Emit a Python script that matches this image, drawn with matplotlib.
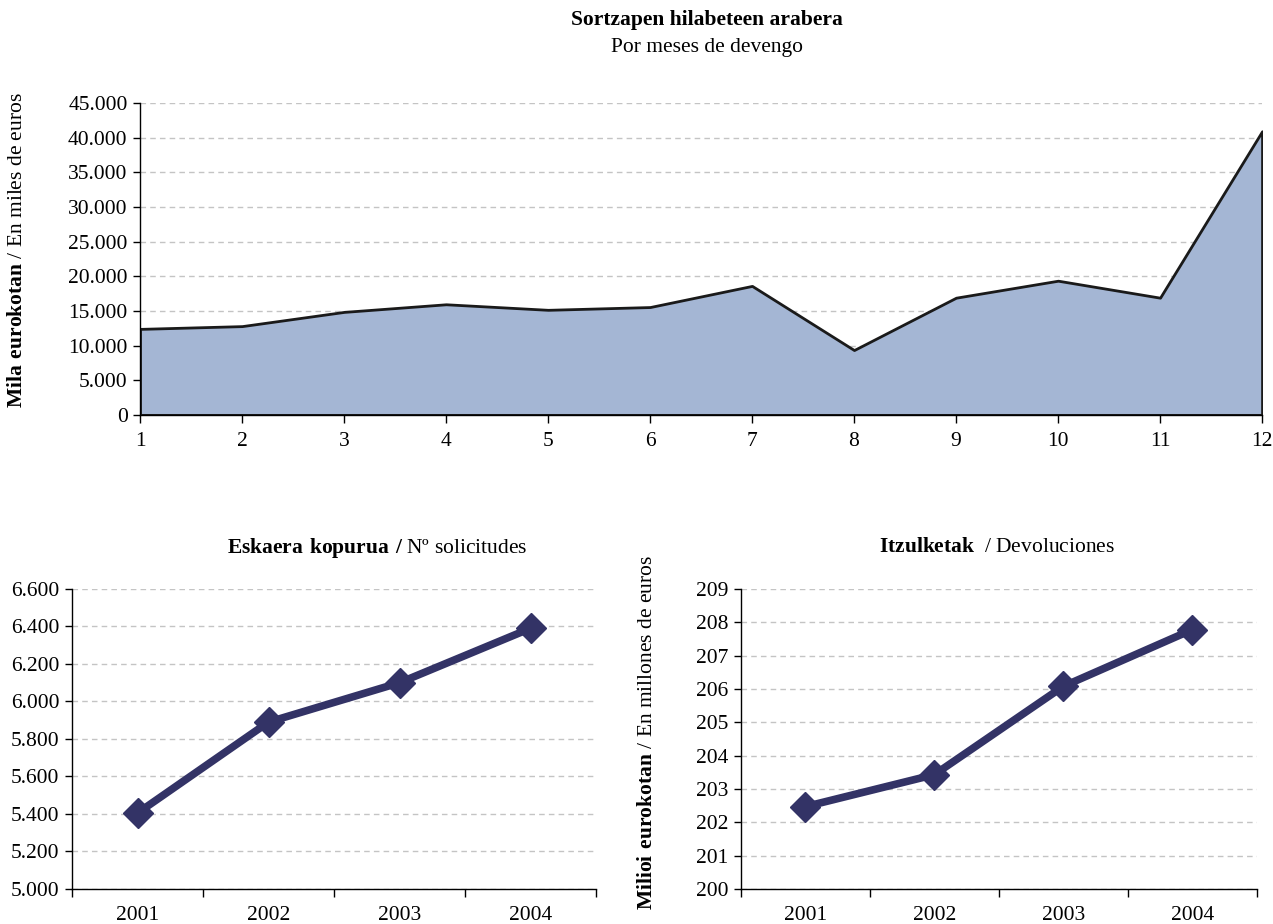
import numpy as np
import matplotlib
matplotlib.use('Agg')
import matplotlib.pyplot as plt
from matplotlib.ticker import FuncFormatter

# Datuak / datos
months = list(range(1, 13))
monthly_values = [12400, 12800, 14850, 15950, 15150, 15550, 18600, 9350, 16900, 19350, 16900, 40900]

years = ['2001', '2002', '2003', '2004']
requests = [5405, 5890, 6100, 6390]
refunds = [202.47, 203.43, 206.08, 207.78]

plt.rcParams['font.family'] = ['Liberation Serif', 'DejaVu Serif']
plt.rcParams['mathtext.fontset'] = 'custom'
plt.rcParams['mathtext.rm'] = 'Liberation Serif'
plt.rcParams['mathtext.bf'] = 'Liberation Serif:bold'
plt.rcParams['font.size'] = 15.5

FILL = '#a4b6d4'
LINE = '#333366'
GRID = '#c4c4c4'


def thousands(v, pos):
  return f'{int(v):,}'.replace(',', '.')


def style_axes(ax):
  ax.spines['top'].set_visible(False)
  ax.spines['right'].set_visible(False)
  ax.spines['left'].set_linewidth(1.0)
  ax.spines['bottom'].set_linewidth(1.0)
  ax.yaxis.grid(True, linestyle=(0, (4, 3)), color=GRID, linewidth=1.0)
  ax.set_axisbelow(True)
  ax.tick_params(axis='y', direction='out', length=5, width=1, pad=4)


fig = plt.figure(figsize=(12.73, 9.24), dpi=100)

# %%
# Goiko grafikoa
ax = fig.add_axes([0.110, 0.551, 0.8814, 0.3377])
style_axes(ax)
ax.fill_between(months, monthly_values, 0, facecolor=FILL, edgecolor='#1a1a1a', linewidth=2)
ax.set_xlim(1, 12)
ax.set_ylim(0, 45000)
ax.set_yticks(np.arange(0, 45001, 5000))
ax.yaxis.set_major_formatter(FuncFormatter(thousands))
ax.set_xticks(months)
ax.tick_params(axis='x', direction='out', length=6, width=1, pad=6)

fig.text(0.555, 0.978, 'Sortzapen hilabeteen arabera', ha='center', va='center', fontweight='bold')
fig.text(0.555, 0.949, 'Por meses de devengo', ha='center', va='center')
fig.text(0.014, 0.729, r'$\mathbf{Mila\ eurokotan}$ / En miles de euros',
         rotation=90, ha='center', va='center')


# %%
# Beheko grafikoak
def line_panel(rect, values, ylim, yticks, fmt):
  a = fig.add_axes(rect)
  style_axes(a)
  x = np.arange(1, len(years) + 1)
  a.plot(x, values, color=LINE, linewidth=5.5, marker='D', markersize=15,
         markerfacecolor=LINE, markeredgecolor=LINE, solid_capstyle='round')
  a.set_xlim(0.5, len(years) + 0.5)
  a.set_ylim(*ylim)
  a.set_yticks(yticks)
  a.yaxis.set_major_formatter(FuncFormatter(fmt))
  a.set_xticks(x)
  a.set_xticklabels(years)
  a.set_xticks(np.arange(0.5, len(years) + 1), minor=True)
  a.tick_params(axis='x', which='major', length=0, pad=12)
  a.tick_params(axis='x', which='minor', direction='out', length=6, width=1)
  return a


ax1 = line_panel([0.0566, 0.0379, 0.4116, 0.3247], requests, (5000, 6600),
                 np.arange(5000, 6601, 200), thousands)
fig.text(0.296, 0.407, r'$\mathbf{Eskaera\ kopurua\ /}$ Nº solicitudes', ha='center', va='center')

ax2 = line_panel([0.582, 0.0379, 0.4053, 0.3247], refunds, (200, 209),
                 np.arange(200, 210, 1), lambda v, p: f'{int(v)}')
fig.text(0.783, 0.407, r'$\mathbf{Itzulketak}$  / Devoluciones', ha='center', va='center')
fig.text(0.509, 0.207, r'$\mathbf{Milioi\ eurokotan}$ / En millones de euros',
         rotation=90, ha='center', va='center')

fig.savefig('out.png', dpi=100)
